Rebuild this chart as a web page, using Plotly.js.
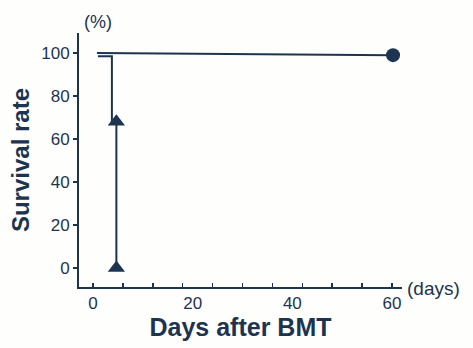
<!DOCTYPE html>
<html>
<head>
<meta charset="utf-8">
<script src="https://cdn.plot.ly/plotly-3.0.1.min.js"></script>
<style>html,body{margin:0;padding:0;background:#fff;}#chart{width:473px;height:348px;}</style>
</head>
<body>
<div id="chart"></div>
<script>
// Group A (circles): all survive to day 60
const circleLineDays = [0.8, 60.2];
const circleLineRate = [100, 99];
const circleMarkDays = [60.2];
const circleMarkRate = [99];

// Group B (triangles): step curve
const triLineDays = [1, 3.8, 3.8, 4.7, 4.7];
const triLineRate = [98.5, 98.5, 68, 68, 0];
const triMarkDays = [4.7, 4.7];
const triMarkRate = [68, 0];

const xMinorTicks = [0, 6, 12, 18, 24, 30, 36, 42, 48, 54, 60];
const xLabelTicks = [0, 20, 40, 60];
const yTicks = [0, 20, 40, 60, 80, 100];

const ink = '#1d3450';
const font = 'Liberation Sans, Arial, Helvetica, sans-serif';

const traces = [
  {x: circleLineDays, y: circleLineRate, mode: 'lines', line: {color: ink, width: 2}, hoverinfo: 'skip'},
  {x: circleMarkDays, y: circleMarkRate, mode: 'markers', marker: {symbol: 'circle', size: 14, color: ink}},
  {x: triLineDays, y: triLineRate, mode: 'lines', line: {color: ink, width: 2}},
  {x: triMarkDays, y: triMarkRate, mode: 'markers', marker: {symbol: 'triangle-up', size: 15, color: ink}}
];

const layout = {
  width: 473, height: 348,
  margin: {l: 79, r: 71, t: 33, b: 61},
  paper_bgcolor: '#fefefd', plot_bgcolor: '#fefefd',
  showlegend: false,
  font: {family: font, color: ink},
  xaxis: {
    range: [-2.8, 62], tickmode: 'array', tickvals: xMinorTicks,
    showticklabels: false, ticks: 'inside', ticklen: 4, tickwidth: 1.5, tickcolor: ink,
    showline: true, linecolor: ink, linewidth: 2, showgrid: false, zeroline: false,
    title: {text: '<b>Days after BMT</b>', font: {size: 25, color: ink}, standoff: 30}
  },
  xaxis2: {
    overlaying: 'x', anchor: 'y', side: 'bottom', range: [-2.8, 62],
    tickmode: 'array', tickvals: xLabelTicks, ticks: '', showline: false,
    showgrid: false, zeroline: false, tickfont: {size: 17, color: ink},
    ticklabelstandoff: 4
  },
  yaxis: {
    range: [-8.8, 109.3], tickmode: 'array', tickvals: yTicks,
    ticks: 'outside', ticklen: 4, tickwidth: 1.5, tickcolor: ink,
    showline: true, linecolor: ink, linewidth: 2, showgrid: false, zeroline: false,
    tickfont: {size: 17, color: ink},
    title: {text: '<b>Survival rate</b>', font: {size: 24, color: ink}, standoff: 5}
  },
  annotations: [
    {text: '(%)', xref: 'paper', yref: 'paper', x: 0, y: 1, xshift: 3, yshift: 23, showarrow: false, font: {size: 18, color: ink}},
    {text: '(days)', xref: 'paper', yref: 'paper', x: 1, y: 0, xanchor: 'left', xshift: 3, yshift: -14, showarrow: false, font: {size: 19, color: ink}}
  ]
};

// dummy trace so xaxis2 renders
traces.push({x: [0], y: [null], xaxis: 'x2', yaxis: 'y', mode: 'markers', hoverinfo: 'skip'});

Plotly.newPlot('chart', traces, layout, {displayModeBar: false, staticPlot: true});
</script>
</body>
</html>
